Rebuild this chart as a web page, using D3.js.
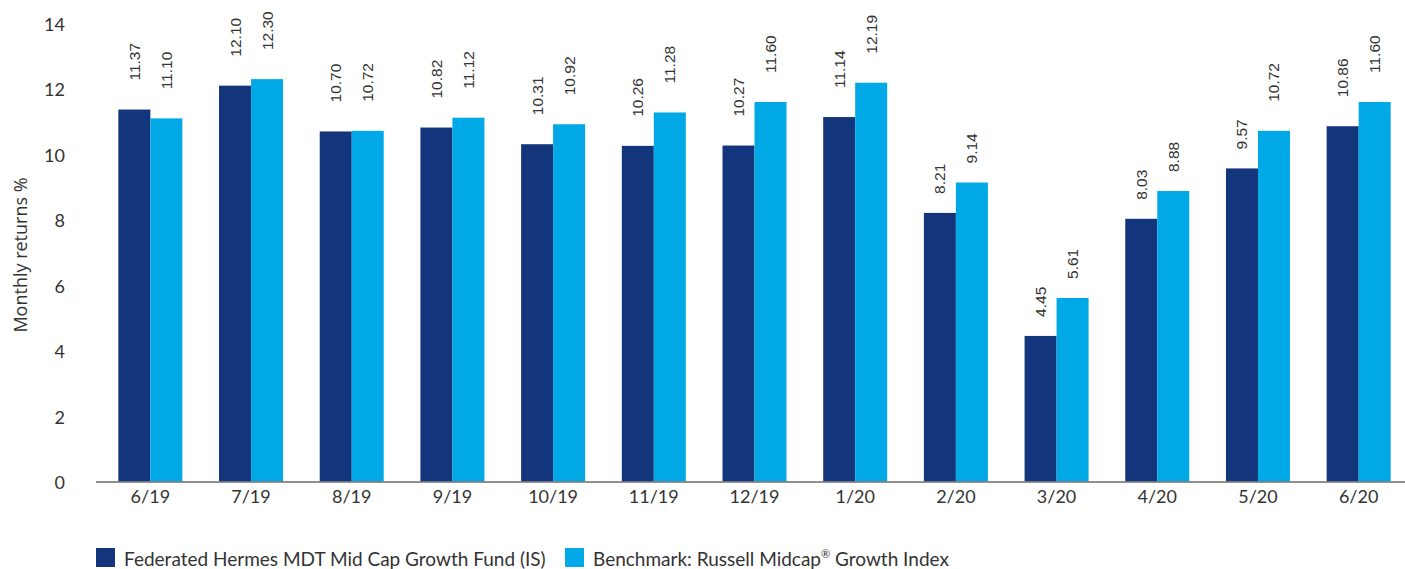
<!DOCTYPE html>
<html>
<head>
<meta charset="utf-8">
<script src="https://cdn.jsdelivr.net/npm/d3@7"></script>
<style>
  body { margin: 0; background: #fff; }
  svg { display: block; }
</style>
</head>
<body>
<script>
let months = ["6/19","7/19","8/19","9/19","10/19","11/19","12/19","1/20","2/20","3/20","4/20","5/20","6/20"]
let fund = [11.37,12.10,10.70,10.82,10.31,10.26,10.27,11.14,8.21,4.45,8.03,9.57,10.86]
let bench = [11.10,12.30,10.72,11.12,10.92,11.28,11.60,12.19,9.14,5.61,8.88,10.72,11.60]
let seriesNames = ["Federated Hermes MDT Mid Cap Growth Fund (IS)", "Benchmark: Russell Midcap"]
let yTicks = [0,2,4,6,8,10,12,14]

let W = 1405, H = 569
let colors = ["#12357b", "#00a9e6"]
let avenir = "Lato, 'Noto Sans', sans-serif"
let wide = "'Open Sans', 'Noto Sans', sans-serif"
let arial = "'Liberation Sans', Arial, sans-serif"

let svg = d3.select("body").append("svg").attr("width", W).attr("height", H)

let x = d3.scaleBand().domain(months).range([100, 1409])
let y = d3.scaleLinear().domain([0, 14]).range([481.5, 23.5])
let barW = 32

// y tick labels
svg.append("g").selectAll("text")
   .data(yTicks).enter().append("text")
   .attr("x", 65)
   .attr("y", d => y(d) + 7.5)
   .attr("text-anchor", "end")
   .attr("font-family", avenir).attr("font-size", 18).attr("fill", "#333")
   .text(d => d)

svg.append("text")
   .attr("transform", "translate(27,255) rotate(-90)")
   .attr("text-anchor", "middle")
   .attr("font-family", wide).attr("font-size", 18).attr("fill", "#333")
   .text("Monthly returns %")

let rows = months.map((m, i) => ({m: m, vals: [fund[i], bench[i]]}))

let groups = svg.append("g").selectAll("g")
   .data(rows).enter().append("g")
   .attr("transform", d => "translate(" + (x(d.m) + x.bandwidth()/2 - barW) + ",0)")

groups.selectAll("rect")
   .data(d => d.vals).enter().append("rect")
   .attr("x", (d, i) => i * barW)
   .attr("y", d => y(d))
   .attr("width", barW)
   .attr("height", d => y(0) - y(d))
   .attr("fill", (d, i) => colors[i])

// labels of two-digit values sit a little higher, as in the original
groups.selectAll("text.val")
   .data(d => d.vals).enter().append("text")
   .attr("class", "val")
   .attr("transform", (d, i) => "translate(" + (i * barW + barW/2 + 5.5) + "," + (y(d) - (d >= 10 ? 29 : 19)) + ") rotate(-90)")
   .attr("font-family", arial).attr("font-size", 15.5).attr("fill", "#333")
   .text(d => d.toFixed(2))

// x axis
svg.append("line")
   .attr("x1", 96).attr("x2", 1405)
   .attr("y1", 482).attr("y2", 482)
   .attr("stroke", "#6b6b6b").attr("stroke-width", 1.5)

svg.append("g").selectAll("text")
   .data(months).enter().append("text")
   .attr("x", d => x(d) + x.bandwidth()/2)
   .attr("y", 503)
   .attr("text-anchor", "middle")
   .attr("font-family", avenir).attr("font-size", 18).attr("fill", "#333")
   .text(d => d)

// legend
let legX = [96, 565]
let leg = svg.append("g").selectAll("g")
   .data(seriesNames).enter().append("g")
   .attr("transform", (d, i) => "translate(" + legX[i] + ",548)")
leg.append("rect").attr("width", 19).attr("height", 19).attr("fill", (d, i) => colors[i])
let lt = leg.append("text")
   .attr("x", 28).attr("y", 18)
   .attr("font-family", avenir).attr("font-size", 19).attr("fill", "#333")
   .text(d => d)
lt.filter((d, i) => i == 1).append("tspan")
   .attr("font-size", 11).attr("dy", -8).text("®")
lt.filter((d, i) => i == 1).append("tspan")
   .attr("dy", 8).text(" Growth Index")
</script>
</body>
</html>
